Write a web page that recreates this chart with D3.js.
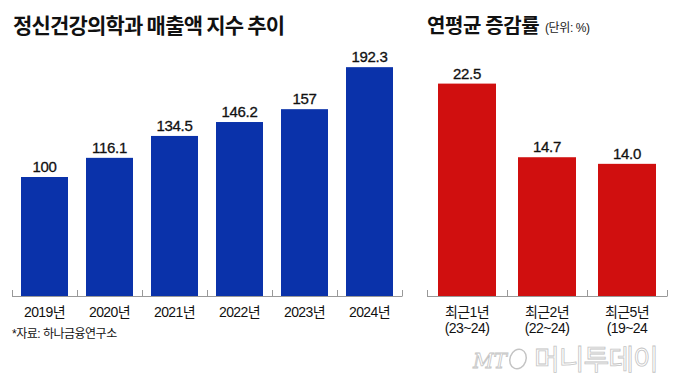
<!DOCTYPE html>
<html>
<head>
<meta charset="utf-8">
<script src="https://cdn.jsdelivr.net/npm/d3@7"></script>
<style>
  body { margin: 0; background: #fff; }
  svg { display: block; font-family: "Liberation Sans", "Noto Sans CJK KR", sans-serif; }
</style>
</head>
<body>
<div id="chart"></div>
<script>
// 데이터
const years = ["2019년", "2020년", "2021년", "2022년", "2023년", "2024년"];
const indexValues = [100, 116.1, 134.5, 146.2, 157, 192.3];
const indexLabels = ["100", "116.1", "134.5", "146.2", "157", "192.3"];

const periods = ["최근1년", "최근2년", "최근5년"];
const periodRanges = ["(23~24)", "(22~24)", "(19~24"];
const growthValues = [22.5, 14.7, 14.0];
const growthLabels = ["22.5", "14.7", "14.0"];

const width = 680, height = 383;
const baseY = 296;

const svg = d3.select("#chart").append("svg")
    .attr("width", width)
    .attr("height", height);

// 제목
svg.append("text")
    .attr("x", 13).attr("y", 33)
    .attr("font-family", "Noto Sans CJK KR")
    .attr("font-weight", "bold")
    .attr("font-size", 21)
    .attr("letter-spacing", -0.8)
    .attr("fill", "#111")
    .text("정신건강의학과 매출액 지수 추이");

svg.append("text")
    .attr("x", 427).attr("y", 33)
    .attr("font-family", "Noto Sans CJK KR")
    .attr("font-weight", "bold")
    .attr("font-size", 20)
    .attr("letter-spacing", -0.4)
    .attr("fill", "#111")
    .text("연평균 증감률");

svg.append("text")
    .attr("x", 545).attr("y", 32)
    .attr("font-size", 12)
    .attr("letter-spacing", -0.4)
    .attr("fill", "#222")
    .text("(단위: %)");

// 왼쪽 막대 차트
const xL = d3.scaleBand()
    .domain(years)
    .range([12, 402])
    .paddingInner(0.277)
    .paddingOuter(0.1385);

const yL = d3.scaleLinear()
    .domain([0, 200])
    .range([baseY, 58]);

const left = svg.append("g");

left.selectAll("rect")
    .data(years)
    .join("rect")
    .attr("x", d => xL(d))
    .attr("y", (d, i) => yL(indexValues[i]))
    .attr("width", xL.bandwidth())
    .attr("height", (d, i) => baseY - yL(indexValues[i]))
    .attr("fill", "#0a32aa");

left.selectAll(".val")
    .data(years)
    .join("text")
    .attr("class", "val")
    .attr("x", d => xL(d) + xL.bandwidth() / 2)
    .attr("y", (d, i) => yL(indexValues[i]) - 5)
    .attr("text-anchor", "middle")
    .attr("font-size", 15)
    .attr("letter-spacing", -0.3)
    .attr("fill", "#111")
    .attr("stroke", "#111")
    .attr("stroke-width", 0.3)
    .text((d, i) => indexLabels[i]);

left.selectAll(".cat")
    .data(years)
    .join("text")
    .attr("class", "cat")
    .attr("x", d => xL(d) + xL.bandwidth() / 2)
    .attr("y", 317)
    .attr("text-anchor", "middle")
    .attr("font-size", 14)
    .attr("letter-spacing", -0.6)
    .attr("fill", "#111")
    .text(d => d);

// 축 선과 눈금
function drawAxis(x, x0, x1) {
    const g = svg.append("g")
        .attr("stroke", "#999")
        .attr("stroke-width", 1);
    g.append("line")
        .attr("x1", x0).attr("x2", x1)
        .attr("y1", baseY + 0.5).attr("y2", baseY + 0.5);
    const half = x.step() * x.paddingInner() / 2;
    const ticks = x.domain().map(d => x(d) - half).concat([x1]);
    g.selectAll("line.tick")
        .data(ticks)
        .join("line")
        .attr("class", "tick")
        .attr("x1", d => Math.round(d) + 0.5).attr("x2", d => Math.round(d) + 0.5)
        .attr("y1", baseY - 6).attr("y2", baseY + 0.5);
}
drawAxis(xL, 12, 402);

// 오른쪽 막대 차트
const xR = d3.scaleBand()
    .domain(periods)
    .range([427, 667])
    .paddingInner(0.275)
    .paddingOuter(0.1375);

const yR = d3.scaleLinear()
    .domain([0, 25])
    .range([baseY, 60]);

const right = svg.append("g");

right.selectAll("rect")
    .data(periods)
    .join("rect")
    .attr("x", d => xR(d))
    .attr("y", (d, i) => yR(growthValues[i]))
    .attr("width", xR.bandwidth())
    .attr("height", (d, i) => baseY - yR(growthValues[i]))
    .attr("fill", "#d00f0f");

right.selectAll(".val")
    .data(periods)
    .join("text")
    .attr("class", "val")
    .attr("x", d => xR(d) + xR.bandwidth() / 2)
    .attr("y", (d, i) => yR(growthValues[i]) - 5)
    .attr("text-anchor", "middle")
    .attr("font-size", 15)
    .attr("letter-spacing", -0.3)
    .attr("fill", "#111")
    .attr("stroke", "#111")
    .attr("stroke-width", 0.3)
    .text((d, i) => growthLabels[i]);

const cats = right.selectAll(".cat")
    .data(periods)
    .join("text")
    .attr("class", "cat")
    .attr("text-anchor", "middle")
    .attr("font-size", 14)
    .attr("letter-spacing", -0.6)
    .attr("fill", "#111");

cats.append("tspan")
    .attr("x", d => xR(d) + xR.bandwidth() / 2)
    .attr("y", 317)
    .text(d => d);

cats.append("tspan")
    .attr("x", d => xR(d) + xR.bandwidth() / 2)
    .attr("y", 333)
    .text((d, i) => periodRanges[i]);

drawAxis(xR, 427, 667);

// 출처
svg.append("text")
    .attr("x", 12).attr("y", 338)
    .attr("font-size", 12)
    .attr("letter-spacing", -0.5)
    .attr("fill", "#111")
    .text("*자료: 하나금융연구소");

// 워터마크
const wm = svg.append("g")
    .attr("fill", "#fff")
    .attr("stroke", "#c4c4c4")
    .attr("stroke-width", 0.8);

wm.append("text")
    .attr("x", 473).attr("y", 368)
    .attr("font-size", 20)
    .attr("font-style", "italic")
    .attr("font-family", "DejaVu Serif")
    .text("MT");

wm.append("ellipse")
    .attr("cx", 518).attr("cy", 359)
    .attr("rx", 8).attr("ry", 10)
    .attr("fill", "none")
    .attr("stroke-width", 1.5)
    .attr("transform", "rotate(20 518 359)");

wm.append("text")
    .attr("x", 534).attr("y", 370)
    .attr("font-family", "Noto Sans CJK KR")
    .attr("font-size", 28)
    .attr("letter-spacing", -1)
    .text("머니투데이");
</script>
</body>
</html>
